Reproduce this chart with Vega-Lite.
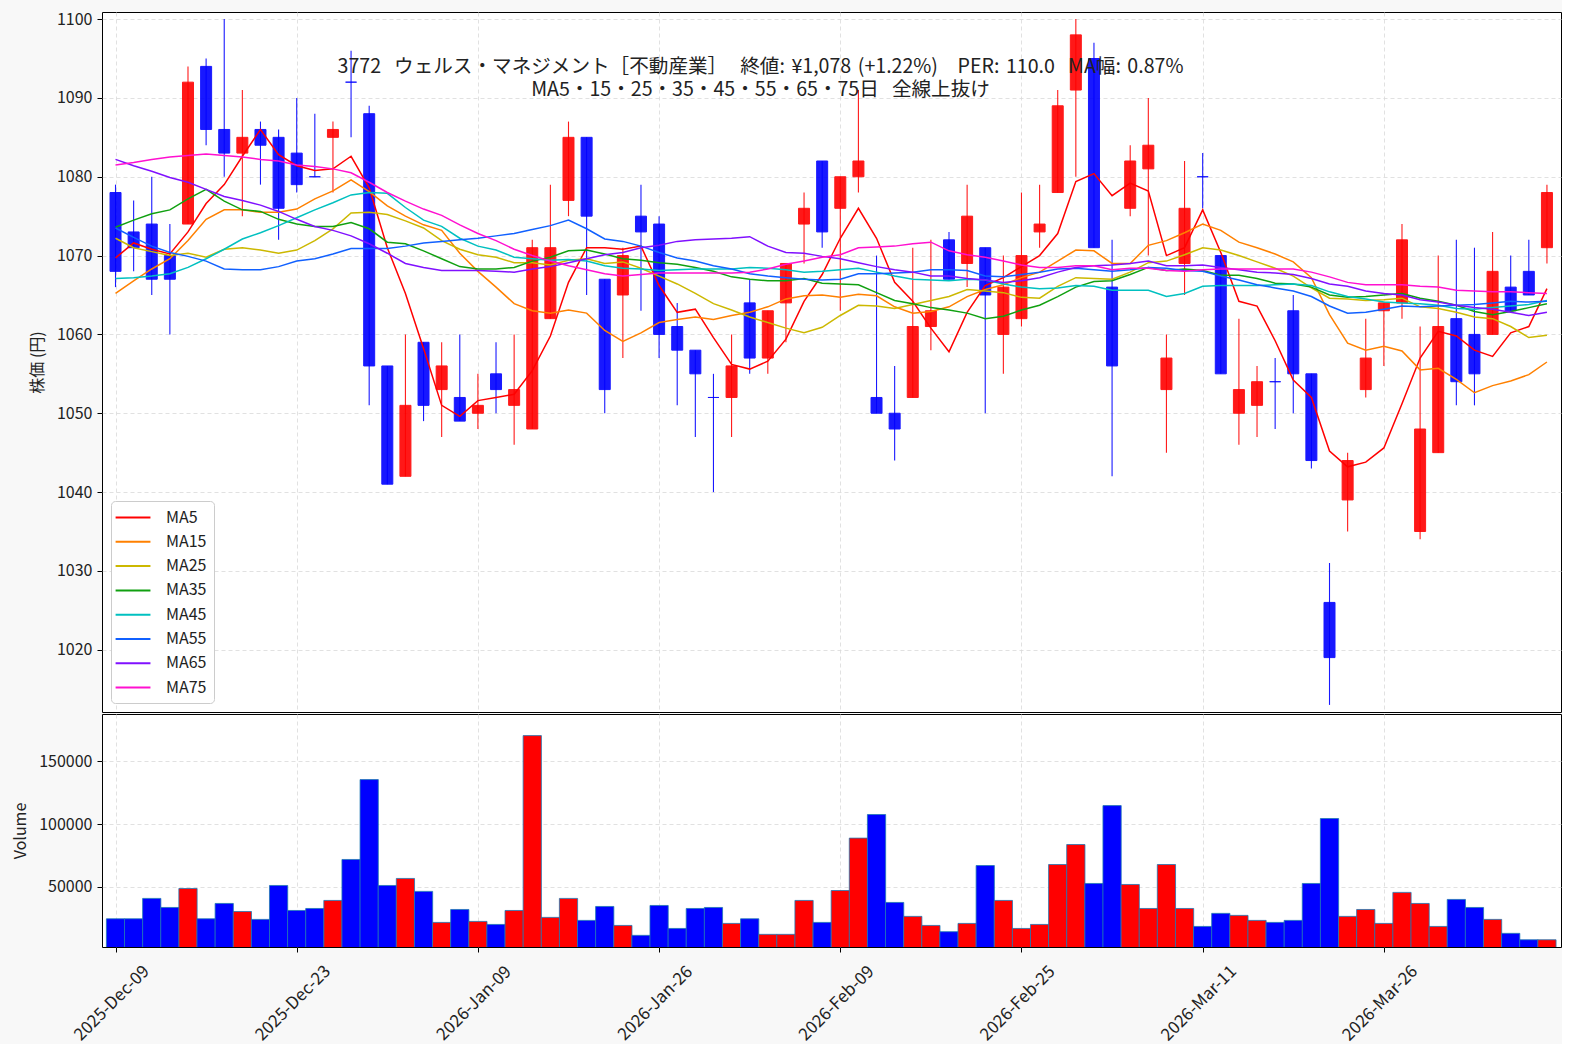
{
  "$schema": "https://vega.github.io/schema/vega-lite/v6.json",
  "background": "#f8f8f8",
  "padding": {"left": 12, "top": 10, "right": 0, "bottom": 0},
  "spacing": 0,
  "datasets": {
    "ohlc": [
      {"i":0,"date":"2025-12-09","o":1078,"h":1079,"l":1066,"c":1068,"v":24700,"dir":"down","MA5":1069.7,"MA15":1065.2,"MA25":1072.2,"MA35":1073.6,"MA45":1067.1,"MA55":1073.5,"MA65":1082.2,"MA75":1081.5},
      {"i":1,"date":"2025-12-10","o":1073,"h":1077,"l":1068,"c":1071,"v":24700,"dir":"down","MA5":1071.6,"MA15":1066.8,"MA25":1071.0,"MA35":1074.5,"MA45":1067.2,"MA55":1072.3,"MA65":1081.4,"MA75":1081.8},
      {"i":2,"date":"2025-12-11","o":1074,"h":1080,"l":1065,"c":1067,"v":40900,"dir":"down","MA5":1070.8,"MA15":1068.3,"MA25":1070.5,"MA35":1075.3,"MA45":1067.4,"MA55":1071.2,"MA65":1080.7,"MA75":1082.2},
      {"i":3,"date":"2025-12-12","o":1070,"h":1074,"l":1060,"c":1067,"v":33700,"dir":"down","MA5":1070.2,"MA15":1069.6,"MA25":1070.0,"MA35":1075.8,"MA45":1067.7,"MA55":1070.4,"MA65":1079.9,"MA75":1082.5},
      {"i":4,"date":"2025-12-15","o":1074,"h":1094,"l":1074,"c":1092,"v":48800,"dir":"up","MA5":1073.0,"MA15":1071.9,"MA25":1070.3,"MA35":1077.2,"MA45":1068.5,"MA55":1069.9,"MA65":1079.3,"MA75":1082.7},
      {"i":5,"date":"2025-12-16","o":1094,"h":1095,"l":1084,"c":1086,"v":24700,"dir":"down","MA5":1076.6,"MA15":1074.6,"MA25":1069.8,"MA35":1078.4,"MA45":1069.6,"MA55":1069.3,"MA65":1078.4,"MA75":1082.9},
      {"i":6,"date":"2025-12-17","o":1086,"h":1100,"l":1080,"c":1083,"v":36900,"dir":"down","MA5":1079.0,"MA15":1075.8,"MA25":1070.8,"MA35":1076.9,"MA45":1070.8,"MA55":1068.3,"MA65":1077.5,"MA75":1082.7},
      {"i":7,"date":"2025-12-18","o":1083,"h":1091,"l":1075,"c":1085,"v":30500,"dir":"up","MA5":1082.6,"MA15":1075.8,"MA25":1071.0,"MA35":1075.8,"MA45":1072.1,"MA55":1068.2,"MA65":1077.0,"MA75":1082.5},
      {"i":8,"date":"2025-12-19","o":1086,"h":1087,"l":1079,"c":1084,"v":24200,"dir":"down","MA5":1086.0,"MA15":1075.5,"MA25":1070.7,"MA35":1075.6,"MA45":1072.9,"MA55":1068.2,"MA65":1076.4,"MA75":1082.2},
      {"i":9,"date":"2025-12-22","o":1085,"h":1086,"l":1072,"c":1076,"v":51200,"dir":"down","MA5":1082.8,"MA15":1075.5,"MA25":1070.3,"MA35":1074.6,"MA45":1073.8,"MA55":1068.6,"MA65":1075.6,"MA75":1082.0},
      {"i":10,"date":"2025-12-23","o":1083,"h":1090,"l":1078,"c":1079,"v":31300,"dir":"down","MA5":1081.4,"MA15":1075.9,"MA25":1070.7,"MA35":1074.0,"MA45":1074.8,"MA55":1069.3,"MA65":1074.6,"MA75":1081.5},
      {"i":11,"date":"2025-12-24","o":1080,"h":1088,"l":1080,"c":1080,"v":32900,"dir":"down","MA5":1080.8,"MA15":1077.2,"MA25":1071.9,"MA35":1073.7,"MA45":1075.8,"MA55":1069.6,"MA65":1073.7,"MA75":1081.3},
      {"i":12,"date":"2025-12-25","o":1085,"h":1087,"l":1078,"c":1086,"v":39300,"dir":"up","MA5":1081.0,"MA15":1078.2,"MA25":1073.4,"MA35":1073.7,"MA45":1076.7,"MA55":1070.2,"MA65":1073.2,"MA75":1081.0},
      {"i":13,"date":"2025-12-26","o":1092,"h":1096,"l":1085,"c":1092,"v":71900,"dir":"down","MA5":1082.6,"MA15":1079.6,"MA25":1075.4,"MA35":1074.2,"MA45":1077.7,"MA55":1070.9,"MA65":1072.5,"MA75":1080.5},
      {"i":14,"date":"2025-12-29","o":1088,"h":1089,"l":1051,"c":1056,"v":135500,"dir":"down","MA5":1078.6,"MA15":1078.1,"MA25":1075.5,"MA35":1073.4,"MA45":1078.0,"MA55":1070.9,"MA65":1071.5,"MA75":1079.3},
      {"i":15,"date":"2025-12-30","o":1056,"h":1056,"l":1041,"c":1041,"v":51200,"dir":"down","MA5":1071.0,"MA15":1076.3,"MA25":1075.2,"MA35":1071.7,"MA45":1077.9,"MA55":1070.9,"MA65":1070.3,"MA75":1078.0},
      {"i":16,"date":"2026-01-05","o":1042,"h":1060,"l":1042,"c":1051,"v":56800,"dir":"up","MA5":1065.2,"MA15":1075.0,"MA25":1074.4,"MA35":1071.5,"MA45":1076.1,"MA55":1071.2,"MA65":1069.0,"MA75":1076.9},
      {"i":17,"date":"2026-01-06","o":1059,"h":1059,"l":1049,"c":1051,"v":46500,"dir":"down","MA5":1058.2,"MA15":1073.9,"MA25":1073.5,"MA35":1070.6,"MA45":1074.5,"MA55":1071.6,"MA65":1068.5,"MA75":1075.9},
      {"i":18,"date":"2026-01-07","o":1053,"h":1059,"l":1047,"c":1056,"v":21800,"dir":"up","MA5":1051.0,"MA15":1073.2,"MA25":1071.9,"MA35":1069.6,"MA45":1073.7,"MA55":1071.8,"MA65":1068.1,"MA75":1075.1},
      {"i":19,"date":"2026-01-08","o":1052,"h":1060,"l":1049,"c":1049,"v":32100,"dir":"down","MA5":1049.6,"MA15":1070.3,"MA25":1070.8,"MA35":1068.6,"MA45":1072.2,"MA55":1072.0,"MA65":1068.1,"MA75":1073.9},
      {"i":20,"date":"2026-01-09","o":1050,"h":1055,"l":1048,"c":1051,"v":22600,"dir":"up","MA5":1051.6,"MA15":1068.0,"MA25":1070.1,"MA35":1068.3,"MA45":1071.2,"MA55":1072.2,"MA65":1068.1,"MA75":1072.8},
      {"i":21,"date":"2026-01-13","o":1055,"h":1059,"l":1050,"c":1053,"v":20200,"dir":"down","MA5":1052.0,"MA15":1066.0,"MA25":1069.8,"MA35":1068.3,"MA45":1070.7,"MA55":1072.5,"MA65":1068.0,"MA75":1071.9},
      {"i":22,"date":"2026-01-14","o":1051,"h":1060,"l":1046,"c":1053,"v":31300,"dir":"up","MA5":1052.4,"MA15":1063.9,"MA25":1069.1,"MA35":1068.5,"MA45":1069.8,"MA55":1072.8,"MA65":1067.9,"MA75":1070.8},
      {"i":23,"date":"2026-01-15","o":1048,"h":1072,"l":1048,"c":1071,"v":170500,"dir":"up","MA5":1055.4,"MA15":1063.0,"MA25":1069.1,"MA35":1069.3,"MA45":1069.6,"MA55":1073.3,"MA65":1068.3,"MA75":1070.0},
      {"i":24,"date":"2026-01-16","o":1062,"h":1079,"l":1062,"c":1071,"v":25800,"dir":"up","MA5":1059.8,"MA15":1062.7,"MA25":1068.8,"MA35":1069.8,"MA45":1069.4,"MA55":1073.8,"MA65":1068.6,"MA75":1069.3},
      {"i":25,"date":"2026-01-19","o":1077,"h":1087,"l":1075,"c":1085,"v":40900,"dir":"up","MA5":1066.6,"MA15":1063.1,"MA25":1069.4,"MA35":1070.6,"MA45":1069.5,"MA55":1074.5,"MA65":1069.1,"MA75":1068.7},
      {"i":26,"date":"2026-01-20","o":1085,"h":1085,"l":1065,"c":1075,"v":23400,"dir":"down","MA5":1071.0,"MA15":1062.7,"MA25":1069.6,"MA35":1070.7,"MA45":1069.3,"MA55":1073.4,"MA65":1069.6,"MA75":1068.2},
      {"i":27,"date":"2026-01-21","o":1067,"h":1067,"l":1050,"c":1053,"v":34500,"dir":"down","MA5":1071.0,"MA15":1060.5,"MA25":1069.0,"MA35":1070.2,"MA45":1068.7,"MA55":1072.1,"MA65":1070.1,"MA75":1067.7},
      {"i":28,"date":"2026-01-22","o":1065,"h":1071,"l":1057,"c":1070,"v":19400,"dir":"up","MA5":1070.8,"MA15":1059.1,"MA25":1069.2,"MA35":1069.6,"MA45":1068.4,"MA55":1071.8,"MA65":1070.4,"MA75":1067.4},
      {"i":29,"date":"2026-01-23","o":1075,"h":1079,"l":1063,"c":1073,"v":11500,"dir":"down","MA5":1071.2,"MA15":1060.2,"MA25":1068.4,"MA35":1069.4,"MA45":1068.3,"MA55":1071.2,"MA65":1071.0,"MA75":1067.6},
      {"i":30,"date":"2026-01-26","o":1074,"h":1075,"l":1057,"c":1060,"v":35300,"dir":"down","MA5":1066.2,"MA15":1061.5,"MA25":1067.4,"MA35":1069.1,"MA45":1068.1,"MA55":1070.4,"MA65":1071.3,"MA75":1067.8},
      {"i":31,"date":"2026-01-27","o":1061,"h":1064,"l":1051,"c":1058,"v":17000,"dir":"down","MA5":1062.8,"MA15":1061.9,"MA25":1066.4,"MA35":1068.9,"MA45":1068.2,"MA55":1069.7,"MA65":1071.8,"MA75":1067.8},
      {"i":32,"date":"2026-01-28","o":1058,"h":1058,"l":1047,"c":1055,"v":32900,"dir":"down","MA5":1063.2,"MA15":1062.2,"MA25":1065.2,"MA35":1068.5,"MA45":1068.3,"MA55":1069.3,"MA65":1072.0,"MA75":1067.8},
      {"i":33,"date":"2026-01-29","o":1052,"h":1055,"l":1040,"c":1052,"v":33700,"dir":"down","MA5":1059.6,"MA15":1061.9,"MA25":1063.9,"MA35":1068.0,"MA45":1068.3,"MA55":1068.7,"MA65":1072.1,"MA75":1067.8},
      {"i":34,"date":"2026-01-30","o":1052,"h":1060,"l":1047,"c":1056,"v":21000,"dir":"up","MA5":1056.2,"MA15":1062.4,"MA25":1063.1,"MA35":1067.3,"MA45":1068.3,"MA55":1068.3,"MA65":1072.2,"MA75":1067.8},
      {"i":35,"date":"2026-02-02","o":1064,"h":1067,"l":1055,"c":1057,"v":24700,"dir":"down","MA5":1055.6,"MA15":1062.8,"MA25":1062.2,"MA35":1067.0,"MA45":1068.5,"MA55":1067.7,"MA65":1072.4,"MA75":1067.9},
      {"i":36,"date":"2026-02-03","o":1057,"h":1063,"l":1055,"c":1063,"v":12300,"dir":"up","MA5":1056.6,"MA15":1063.5,"MA25":1061.5,"MA35":1066.8,"MA45":1068.4,"MA55":1067.4,"MA65":1071.2,"MA75":1068.3},
      {"i":37,"date":"2026-02-04","o":1064,"h":1069,"l":1059,"c":1069,"v":12300,"dir":"up","MA5":1059.4,"MA15":1064.5,"MA25":1060.8,"MA35":1066.8,"MA45":1068.2,"MA55":1067.2,"MA65":1070.4,"MA75":1068.9},
      {"i":38,"date":"2026-02-05","o":1074,"h":1078,"l":1069,"c":1076,"v":39300,"dir":"up","MA5":1064.2,"MA15":1064.9,"MA25":1060.2,"MA35":1067.1,"MA45":1067.9,"MA55":1067.0,"MA65":1070.3,"MA75":1069.3},
      {"i":39,"date":"2026-02-06","o":1082,"h":1082,"l":1071,"c":1073,"v":21800,"dir":"down","MA5":1067.6,"MA15":1065.0,"MA25":1060.9,"MA35":1066.5,"MA45":1068.0,"MA55":1066.9,"MA65":1069.9,"MA75":1069.8},
      {"i":40,"date":"2026-02-09","o":1076,"h":1080,"l":1063,"c":1080,"v":47200,"dir":"up","MA5":1072.2,"MA15":1064.7,"MA25":1062.4,"MA35":1066.4,"MA45":1068.2,"MA55":1067.0,"MA65":1069.6,"MA75":1070.1},
      {"i":41,"date":"2026-02-10","o":1080,"h":1091,"l":1078,"c":1082,"v":88900,"dir":"up","MA5":1076.0,"MA15":1065.1,"MA25":1063.7,"MA35":1066.3,"MA45":1068.4,"MA55":1067.7,"MA65":1069.1,"MA75":1071.0},
      {"i":42,"date":"2026-02-12","o":1052,"h":1070,"l":1050,"c":1050,"v":107700,"dir":"down","MA5":1072.2,"MA15":1064.9,"MA25":1063.6,"MA35":1065.3,"MA45":1067.9,"MA55":1067.7,"MA65":1068.6,"MA75":1071.1},
      {"i":43,"date":"2026-02-13","o":1050,"h":1056,"l":1044,"c":1048,"v":37700,"dir":"down","MA5":1066.6,"MA15":1063.5,"MA25":1063.3,"MA35":1064.3,"MA45":1067.4,"MA55":1067.8,"MA65":1068.2,"MA75":1071.2},
      {"i":44,"date":"2026-02-16","o":1052,"h":1071,"l":1052,"c":1061,"v":26600,"dir":"up","MA5":1064.2,"MA15":1062.7,"MA25":1063.8,"MA35":1063.9,"MA45":1067.0,"MA55":1067.9,"MA65":1067.9,"MA75":1071.5},
      {"i":45,"date":"2026-02-17","o":1061,"h":1072,"l":1058,"c":1063,"v":19400,"dir":"up","MA5":1060.8,"MA15":1062.9,"MA25":1064.3,"MA35":1063.4,"MA45":1066.9,"MA55":1068.2,"MA65":1067.4,"MA75":1071.7},
      {"i":46,"date":"2026-02-18","o":1072,"h":1073,"l":1067,"c":1067,"v":14400,"dir":"down","MA5":1057.8,"MA15":1063.5,"MA25":1064.8,"MA35":1063.1,"MA45":1066.8,"MA55":1068.2,"MA65":1067.4,"MA75":1070.6},
      {"i":47,"date":"2026-02-19","o":1069,"h":1079,"l":1066,"c":1075,"v":21000,"dir":"up","MA5":1062.8,"MA15":1064.8,"MA25":1065.7,"MA35":1062.7,"MA45":1067.0,"MA55":1068.1,"MA65":1067.1,"MA75":1070.1},
      {"i":48,"date":"2026-02-20","o":1071,"h":1071,"l":1050,"c":1065,"v":67100,"dir":"down","MA5":1066.2,"MA15":1065.7,"MA25":1065.5,"MA35":1062.0,"MA45":1066.9,"MA55":1067.4,"MA65":1066.9,"MA75":1069.8},
      {"i":49,"date":"2026-02-24","o":1060,"h":1070,"l":1055,"c":1066,"v":39300,"dir":"up","MA5":1067.2,"MA15":1066.3,"MA25":1065.3,"MA35":1062.3,"MA45":1066.4,"MA55":1067.3,"MA65":1066.6,"MA75":1069.3},
      {"i":50,"date":"2026-02-25","o":1062,"h":1078,"l":1061,"c":1070,"v":17000,"dir":"up","MA5":1068.6,"MA15":1067.2,"MA25":1064.7,"MA35":1063.1,"MA45":1066.0,"MA55":1067.6,"MA65":1066.8,"MA75":1068.8},
      {"i":51,"date":"2026-02-26","o":1073,"h":1079,"l":1071,"c":1074,"v":20200,"dir":"up","MA5":1070.0,"MA15":1067.9,"MA25":1064.6,"MA35":1063.7,"MA45":1065.8,"MA55":1067.9,"MA65":1067.2,"MA75":1068.5},
      {"i":52,"date":"2026-02-27","o":1078,"h":1091,"l":1078,"c":1089,"v":67900,"dir":"up","MA5":1072.8,"MA15":1069.3,"MA25":1066.1,"MA35":1064.8,"MA45":1065.9,"MA55":1068.3,"MA65":1067.9,"MA75":1068.5},
      {"i":53,"date":"2026-03-02","o":1091,"h":1100,"l":1080,"c":1098,"v":83800,"dir":"up","MA5":1079.4,"MA15":1070.7,"MA25":1067.2,"MA35":1066.0,"MA45":1066.2,"MA55":1068.4,"MA65":1068.5,"MA75":1068.7},
      {"i":54,"date":"2026-03-03","o":1095,"h":1097,"l":1071,"c":1071,"v":52800,"dir":"down","MA5":1080.4,"MA15":1070.6,"MA25":1067.1,"MA35":1066.7,"MA45":1066.1,"MA55":1068.2,"MA65":1068.7,"MA75":1068.7},
      {"i":55,"date":"2026-03-04","o":1066,"h":1072,"l":1042,"c":1056,"v":114800,"dir":"down","MA5":1077.6,"MA15":1069.0,"MA25":1067.0,"MA35":1066.8,"MA45":1065.6,"MA55":1068.0,"MA65":1068.8,"MA75":1068.2},
      {"i":56,"date":"2026-03-05","o":1076,"h":1084,"l":1075,"c":1082,"v":52000,"dir":"up","MA5":1079.2,"MA15":1069.0,"MA25":1067.9,"MA35":1067.6,"MA45":1065.6,"MA55":1068.2,"MA65":1069.0,"MA75":1068.4},
      {"i":57,"date":"2026-03-06","o":1081,"h":1090,"l":1070,"c":1084,"v":32900,"dir":"up","MA5":1078.2,"MA15":1071.3,"MA25":1069.1,"MA35":1068.5,"MA45":1065.6,"MA55":1068.5,"MA65":1069.3,"MA75":1068.4},
      {"i":58,"date":"2026-03-09","o":1053,"h":1060,"l":1045,"c":1057,"v":67900,"dir":"up","MA5":1070.0,"MA15":1071.9,"MA25":1069.3,"MA35":1068.1,"MA45":1064.8,"MA55":1068.4,"MA65":1068.7,"MA75":1068.1},
      {"i":59,"date":"2026-03-10","o":1069,"h":1082,"l":1065,"c":1076,"v":32900,"dir":"up","MA5":1071.0,"MA15":1072.9,"MA25":1070.1,"MA35":1068.3,"MA45":1065.2,"MA55":1068.1,"MA65":1068.7,"MA75":1068.0},
      {"i":60,"date":"2026-03-11","o":1080,"h":1083,"l":1076,"c":1080,"v":18600,"dir":"down","MA5":1075.8,"MA15":1074.0,"MA25":1071.0,"MA35":1068.1,"MA45":1066.1,"MA55":1068.0,"MA65":1068.8,"MA75":1068.2},
      {"i":61,"date":"2026-03-12","o":1070,"h":1070,"l":1055,"c":1055,"v":29000,"dir":"down","MA5":1070.4,"MA15":1073.2,"MA25":1070.7,"MA35":1067.5,"MA45":1066.2,"MA55":1067.4,"MA65":1068.5,"MA75":1068.3},
      {"i":62,"date":"2026-03-13","o":1050,"h":1062,"l":1046,"c":1053,"v":27400,"dir":"up","MA5":1064.2,"MA15":1071.7,"MA25":1070.0,"MA35":1067.5,"MA45":1066.2,"MA55":1066.9,"MA65":1068.2,"MA75":1068.3},
      {"i":63,"date":"2026-03-16","o":1051,"h":1056,"l":1047,"c":1054,"v":23400,"dir":"up","MA5":1063.6,"MA15":1071.0,"MA25":1069.2,"MA35":1067.1,"MA45":1066.2,"MA55":1066.3,"MA65":1067.9,"MA75":1068.3},
      {"i":64,"date":"2026-03-17","o":1054,"h":1057,"l":1048,"c":1054,"v":21800,"dir":"down","MA5":1059.2,"MA15":1070.2,"MA25":1068.4,"MA35":1066.5,"MA45":1066.3,"MA55":1065.9,"MA65":1067.8,"MA75":1068.3},
      {"i":65,"date":"2026-03-18","o":1063,"h":1065,"l":1050,"c":1055,"v":23400,"dir":"down","MA5":1054.2,"MA15":1069.2,"MA25":1067.4,"MA35":1066.4,"MA45":1066.4,"MA55":1065.5,"MA65":1067.6,"MA75":1068.3},
      {"i":66,"date":"2026-03-19","o":1055,"h":1055,"l":1043,"c":1044,"v":52800,"dir":"down","MA5":1052.0,"MA15":1067.2,"MA25":1065.9,"MA35":1066.0,"MA45":1066.2,"MA55":1064.8,"MA65":1067.1,"MA75":1067.9},
      {"i":67,"date":"2026-03-23","o":1026,"h":1031,"l":1013,"c":1019,"v":104500,"dir":"down","MA5":1045.2,"MA15":1062.5,"MA25":1064.6,"MA35":1065.0,"MA45":1065.4,"MA55":1063.6,"MA65":1066.4,"MA75":1067.3},
      {"i":68,"date":"2026-03-24","o":1039,"h":1045,"l":1035,"c":1044,"v":26600,"dir":"up","MA5":1043.2,"MA15":1058.9,"MA25":1064.5,"MA35":1064.7,"MA45":1064.8,"MA55":1062.7,"MA65":1066.1,"MA75":1066.6},
      {"i":69,"date":"2026-03-25","o":1053,"h":1062,"l":1052,"c":1057,"v":32100,"dir":"up","MA5":1043.8,"MA15":1058.0,"MA25":1064.3,"MA35":1064.8,"MA45":1064.5,"MA55":1062.8,"MA65":1065.5,"MA75":1066.3},
      {"i":70,"date":"2026-03-26","o":1063,"h":1064,"l":1056,"c":1064,"v":21000,"dir":"up","MA5":1045.6,"MA15":1058.5,"MA25":1064.4,"MA35":1065.0,"MA45":1064.1,"MA55":1063.2,"MA65":1065.2,"MA75":1066.3},
      {"i":71,"date":"2026-03-27","o":1064,"h":1074,"l":1062,"c":1072,"v":45700,"dir":"up","MA5":1051.2,"MA15":1057.9,"MA25":1064.6,"MA35":1065.2,"MA45":1064.0,"MA55":1063.6,"MA65":1065.0,"MA75":1066.3},
      {"i":72,"date":"2026-03-30","o":1035,"h":1061,"l":1034,"c":1048,"v":36900,"dir":"up","MA5":1057.0,"MA15":1055.5,"MA25":1063.5,"MA35":1064.6,"MA45":1063.9,"MA55":1063.5,"MA65":1064.4,"MA75":1066.1},
      {"i":73,"date":"2026-03-31","o":1045,"h":1070,"l":1045,"c":1061,"v":18600,"dir":"up","MA5":1060.4,"MA15":1055.7,"MA25":1063.3,"MA35":1064.2,"MA45":1063.7,"MA55":1063.6,"MA65":1064.1,"MA75":1066.0},
      {"i":74,"date":"2026-04-01","o":1062,"h":1072,"l":1051,"c":1054,"v":40100,"dir":"down","MA5":1059.8,"MA15":1054.3,"MA25":1062.8,"MA35":1063.7,"MA45":1063.3,"MA55":1063.7,"MA65":1063.7,"MA75":1065.6},
      {"i":75,"date":"2026-04-02","o":1060,"h":1071,"l":1051,"c":1055,"v":33700,"dir":"down","MA5":1058.0,"MA15":1052.6,"MA25":1062.2,"MA35":1062.9,"MA45":1063.2,"MA55":1063.8,"MA65":1063.4,"MA75":1065.5},
      {"i":76,"date":"2026-04-03","o":1060,"h":1073,"l":1060,"c":1068,"v":24200,"dir":"up","MA5":1057.2,"MA15":1053.5,"MA25":1062.0,"MA35":1062.5,"MA45":1063.4,"MA55":1064.0,"MA65":1063.2,"MA75":1065.4},
      {"i":77,"date":"2026-04-06","o":1066,"h":1070,"l":1063,"c":1063,"v":13100,"dir":"down","MA5":1060.2,"MA15":1054.1,"MA25":1061.0,"MA35":1062.9,"MA45":1063.6,"MA55":1064.2,"MA65":1062.8,"MA75":1065.4},
      {"i":78,"date":"2026-04-07","o":1068,"h":1072,"l":1065,"c":1065,"v":8000,"dir":"down","MA5":1061.0,"MA15":1054.9,"MA25":1059.6,"MA35":1063.4,"MA45":1063.8,"MA55":1064.1,"MA65":1062.4,"MA75":1065.3},
      {"i":79,"date":"2026-04-08","o":1071,"h":1079,"l":1069,"c":1078,"v":8000,"dir":"up","MA5":1065.8,"MA15":1056.5,"MA25":1059.9,"MA35":1063.9,"MA45":1064.3,"MA55":1064.2,"MA65":1062.8,"MA75":1065.2}
    ]
  },
  "vconcat": [
    {
      "width": 1459,
      "height": 700,
      "data": {"name": "ohlc"},
      "title": {
        "text": ["3772\u2004\u2004ウェルス・マネジメント［不動産業］\u2004\u2004終値:\u2004¥1,078\u2004(+1.22%)\u2004\u2004\u2004PER:\u2004110.0\u2004\u2004MA幅:\u20040.87%", "MA5・15・25・35・45・55・65・75日\u2004\u2004全線上抜け"],
        "anchor": "middle",
        "frame": "group",
        "baseline": "top",
        "offset": -46,
        "dy": 44,
        "dx": -71,
        "fontSize": 19.6,
        "lineHeight": 23,
        "fontWeight": "normal",
        "font": "Noto Sans CJK JP",
        "color": "#222222"
      },
      "layer": [
        {
          "mark": {"type": "rule", "strokeWidth": 1.1, "opacity": 0.9},
          "encoding": {
            "x": {"field": "i", "type": "quantitative",
                  "scale": {"domain": [-0.47, 79.5], "nice": false, "zero": false},
                  "axis": {"values": [0,10,20,30,40,50,60,70], "labels": false, "ticks": false, "domain": false, "grid": true, "title": null}},
            "y": {"field": "l", "type": "quantitative",
                  "scale": {"domain": [1012.1, 1100.9], "nice": false, "zero": false},
                  "axis": {"values": [1020,1030,1040,1050,1060,1070,1080,1090,1100], "format": "d", "title": "株価 (円)", "titlePadding": 11, "grid": true}},
            "y2": {"field": "h"},
            "stroke": {"field": "dir", "type": "nominal", "scale": {"domain": ["up","down"], "range": ["#ff0000","#0000ff"]}, "legend": null}
          }
        },
        {
          "mark": {"type": "bar", "width": 11, "opacity": 0.9, "strokeWidth": 1},
          "encoding": {
            "x": {"field": "i", "type": "quantitative"},
            "y": {"field": "o", "type": "quantitative"},
            "y2": {"field": "c"},
            "fill": {"field": "dir", "type": "nominal", "scale": {"domain": ["up","down"], "range": ["#ff0000","#0000ff"]}, "legend": null},
            "stroke": {"field": "dir", "type": "nominal", "legend": null}
          }
        },
        {
          "transform": [{"fold": ["MA5","MA15","MA25","MA35","MA45","MA55","MA65","MA75"], "as": ["ma","val"]}],
          "mark": {"type": "line", "strokeWidth": 1.5},
          "encoding": {
            "x": {"field": "i", "type": "quantitative"},
            "y": {"field": "val", "type": "quantitative"},
            "color": {"field": "ma", "type": "nominal",
                      "scale": {"domain": ["MA5","MA15","MA25","MA35","MA45","MA55","MA65","MA75"],
                                "range": ["#ff0000","#ff8000","#ccb800","#10a010","#00c0c0","#1060ff","#8010ff","#ff10d0"]},
                      "legend": {"title": null, "orient": "bottom-left", "offset": 9,
                                 "fillColor": "white", "strokeColor": "#cccccc", "cornerRadius": 4, "padding": 7,
                                 "symbolType": "M-1.4,0H2.7", "symbolSize": 289, "symbolStrokeWidth": 2,
                                 "labelFontSize": 16, "labelOffset": 29, "rowPadding": 6.3,
                                 "labelFont": "Noto Sans CJK JP", "labelColor": "#222222"}}
          }
        }
      ]
    },
    {
      "width": 1459,
      "height": 233,
      "data": {"name": "ohlc"},
      "mark": {"type": "bar", "width": 18.24, "stroke": "#1f77b4", "strokeWidth": 0.8, "clip": true},
      "encoding": {
        "x": {"field": "i", "type": "quantitative",
              "scale": {"domain": [-0.47, 79.5], "nice": false, "zero": false},
              "axis": {"values": [0,10,20,30,40,50,60,70], "grid": true, "title": null, "domain": false,
                       "labelAngle": -45, "labelAlign": "center", "labelBaseline": "middle", "labelPadding": 51, "labelOffset": -4, "labelFlush": false, "labelFontSize": 17,
                       "labelExpr": "datum.value==0?'2025-Dec-09':datum.value==10?'2025-Dec-23':datum.value==20?'2026-Jan-09':datum.value==30?'2026-Jan-26':datum.value==40?'2026-Feb-09':datum.value==50?'2026-Feb-25':datum.value==60?'2026-Mar-11':'2026-Mar-26'"}},
        "y": {"field": "v", "type": "quantitative",
              "scale": {"domain": [2230, 187700], "nice": false, "zero": false},
              "axis": {"values": [50000,100000,150000], "format": "d", "title": "Volume", "titlePadding": 10, "grid": true}},
        "fill": {"field": "dir", "type": "nominal", "scale": {"domain": ["up","down"], "range": ["#ff0000","#0000ff"]}, "legend": null}
      }
    }
  ],
  "resolve": {"scale": {"color": "independent", "y": "independent"}, "legend": {"color": "independent"}},
  "config": {
    "font": "Noto Sans CJK JP",
    "view": {"stroke": "black", "strokeWidth": 1, "fill": "white"},
    "axis": {
      "labelFont": "Noto Sans CJK JP", "labelFontSize": 16, "labelColor": "#222222",
      "titleFont": "Noto Sans CJK JP", "titleFontSize": 16, "titleFontWeight": "normal", "titleColor": "#222222",
      "tickColor": "black", "tickSize": 5, "labelPadding": 5, "domain": false,
      "gridColor": "#d9d9d9", "gridDash": [4, 3], "gridWidth": 0.8
    }
  }
}
